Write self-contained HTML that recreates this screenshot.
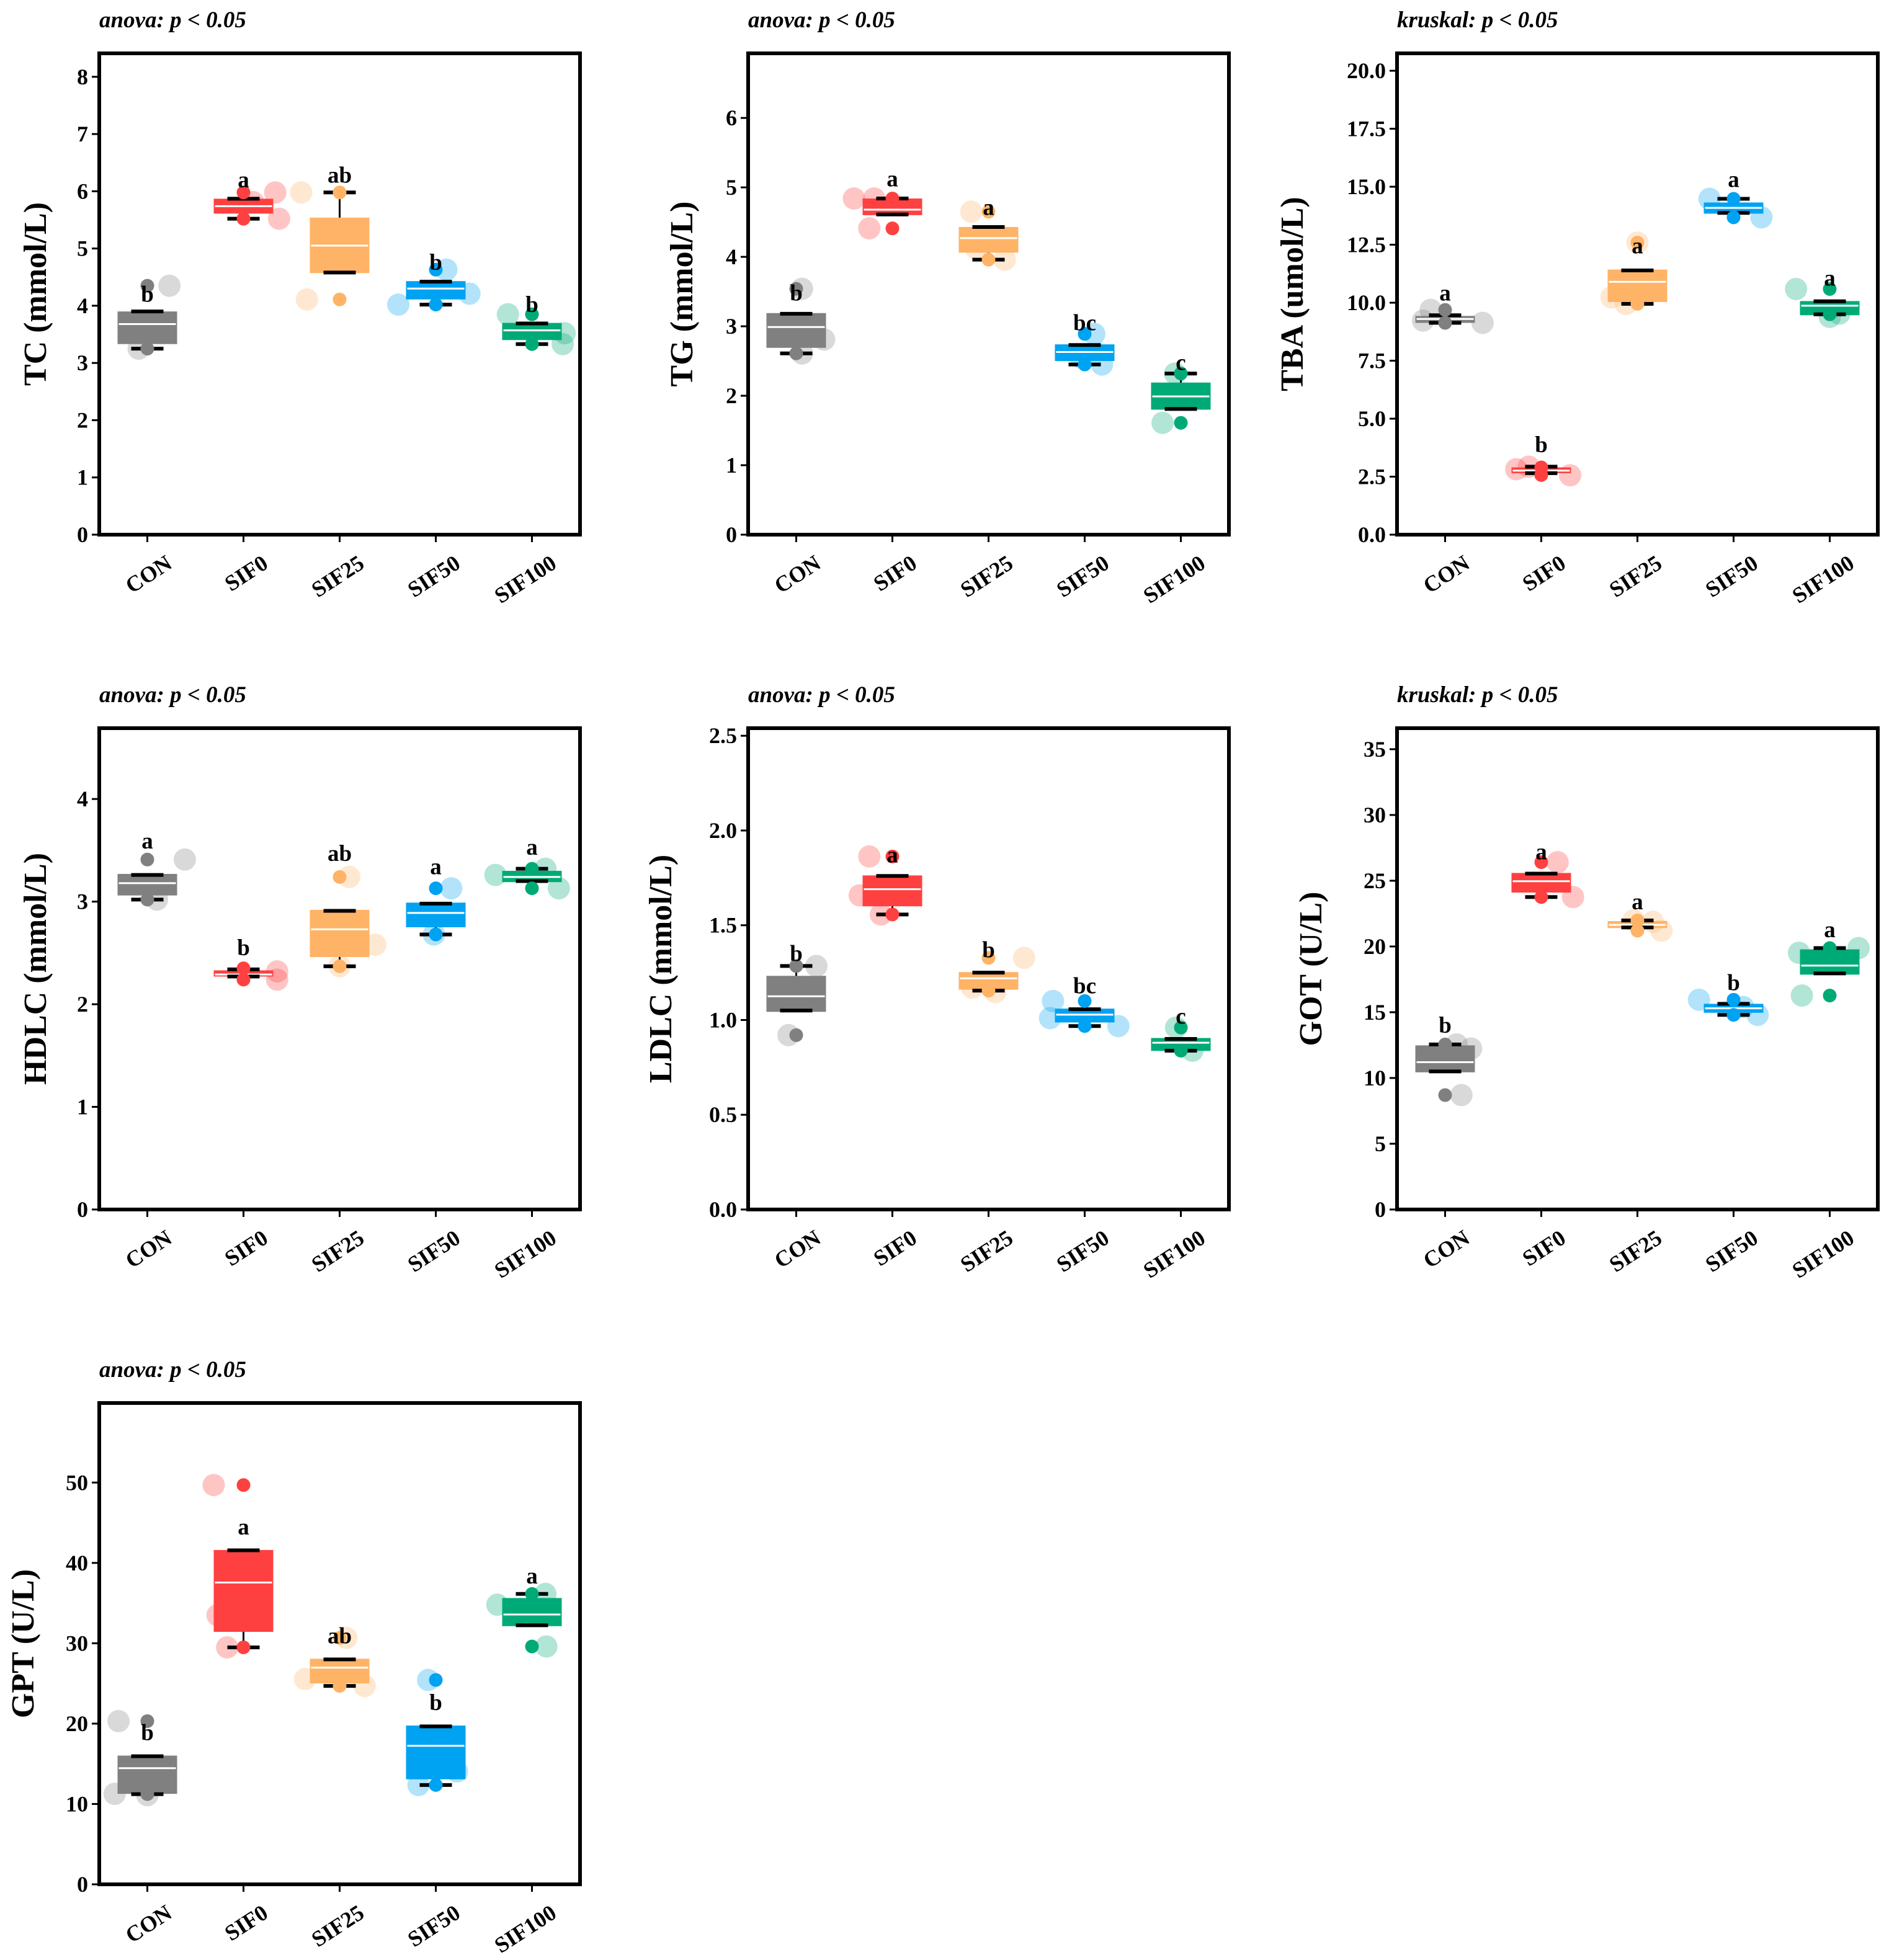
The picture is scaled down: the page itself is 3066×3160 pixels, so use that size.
<!DOCTYPE html>
<html><head><meta charset="utf-8"><style>
html,body{margin:0;padding:0;background:#fff;}
svg{display:block;}
text{font-family:"Liberation Serif",serif;font-weight:bold;}
</style></head><body>
<svg id="fig" width="3066" height="3160" viewBox="0 0 3066 3160" xmlns="http://www.w3.org/2000/svg"></svg>
<script>
const categories=["CON","SIF0","SIF25","SIF50","SIF100"];
const baseColors=["#808080","#ff4040","#ffb366","#00a2f2","#00aa77"];
// TC
const tcQ1=[3.33,5.61,4.57,4.11,3.40], tcMed=[3.68,5.74,5.05,4.30,3.57], tcQ3=[3.90,5.87,5.54,4.43,3.70];
const tcWlo=[3.25,5.52,4.58,4.02,3.33], tcWhi=[3.90,5.87,5.98,4.42,3.69];
const tcDark=[[4.35,3.25],[5.98,5.52],[5.98,4.11],[4.63,4.02],[3.85,3.33]];
const tcLight=[[4.35,3.25],[5.98,5.52,5.81],[5.98,4.11],[4.63,4.02,4.21],[3.85,3.33,3.52]];
const tcLetters=["b","a","ab","b","b"], tcLetterY=[4.2,6.2,6.28,4.76,4.02];
// TG
const tgQ1=[2.69,4.60,4.06,2.50,1.80], tgMed=[2.99,4.68,4.27,2.63,1.99], tgQ3=[3.19,4.84,4.43,2.74,2.19];
const tgWlo=[2.61,4.61,3.96,2.45,1.81], tgWhi=[3.18,4.84,4.43,2.73,2.32];
const tgDark=[[3.54,2.61],[4.84,4.41],[4.65,3.96],[2.89,2.45],[2.32,1.61]];
const tgLight=[[3.54,2.81,2.61],[4.84,4.84,4.41],[4.65,3.96,4.12],[2.89,2.45,2.55],[2.32,1.61]];
const tgLetters=["b","a","a","bc","c"], tgLetterY=[3.48,5.12,4.71,3.05,2.48];
// TBA
const tbaQ1=[9.13,2.65,10.03,13.84,9.46], tbaMed=[9.30,2.76,10.90,14.09,9.87], tbaQ3=[9.43,2.90,11.43,14.32,10.07];
const tbaWlo=[9.13,2.65,9.95,13.87,9.50], tbaWhi=[9.46,2.93,11.39,14.48,10.06];
const tbaDark=[[9.69,9.13],[2.90,2.57],[12.59,9.95],[14.48,13.68],[10.59,9.50]];
const tbaLight=[[9.69,9.23,9.13],[2.82,2.93,2.56],[12.59,10.23,9.94],[14.48,13.68],[10.59,9.39,9.53]];
const tbaLetters=["a","b","a","a","a"], tbaLetterY=[10.41,3.88,12.45,15.31,11.06];
// HDLC
const hdQ1=[3.06,2.27,2.46,2.75,3.19], hdMed=[3.18,2.29,2.73,2.89,3.24], hdQ3=[3.27,2.33,2.92,2.99,3.30];
const hdWlo=[3.02,2.27,2.37,2.68,3.20], hdWhi=[3.26,2.34,2.91,2.98,3.32];
const hdDark=[[3.41,3.02],[2.35,2.24],[3.24,2.37],[3.13,2.68],[3.32,3.13]];
const hdLight=[[3.41,3.02],[2.32,2.24],[3.24,2.58,2.37],[3.13,2.68],[3.26,3.32,3.13]];
const hdLetters=["a","b","ab","a","a"], hdLetterY=[3.59,2.55,3.47,3.34,3.53];
// LDLC
const ldQ1=[1.043,1.60,1.16,0.987,0.837], ldMed=[1.125,1.69,1.22,1.028,0.88], ldQ3=[1.233,1.763,1.253,1.06,0.905];
const ldWlo=[1.05,1.557,1.155,0.968,0.838], ldWhi=[1.285,1.76,1.25,1.057,0.90];
const ldDark=[[1.285,0.92],[1.863,1.557],[1.328,1.155],[1.10,0.968],[0.96,0.838]];
const ldLight=[[1.285,0.92],[1.863,1.658,1.557],[1.328,1.17,1.147],[1.10,1.01,0.968],[0.96,0.838]];
const ldLetters=["b","a","b","bc","c"], ldLetterY=[1.35,1.87,1.37,1.18,1.02];
// GOT
const goQ1=[10.43,24.1,21.4,14.96,17.86], goMed=[11.2,24.96,21.64,15.3,18.55], goQ3=[12.48,25.59,21.93,15.64,19.78];
const goWlo=[10.5,23.76,21.45,14.8,17.95], goWhi=[12.55,25.54,21.98,15.64,19.88];
const goDark=[[12.55,8.70],[26.41,23.76],[21.98,21.2],[15.95,14.8],[19.88,16.27]];
const goLight=[[12.55,12.24,8.70],[26.41,23.76],[21.98,21.88,21.2],[15.95,14.8,15.4],[19.52,19.88,16.27]];
const goLetters=["b","a","a","b","a"], goLetterY=[14.0,27.2,23.4,17.25,21.28];
// GPT
const gpQ1=[11.26,31.42,25.0,13.07,32.13], gpMed=[14.45,37.56,26.97,17.24,33.58], gpQ3=[16.02,41.61,28.07,19.76,35.63];
const gpWlo=[11.22,29.49,24.69,12.36,32.24], gpWhi=[15.94,41.57,27.99,19.65,36.14];
const gpDark=[[20.31,11.22],[49.69,29.49],[30.67,24.69],[25.43,12.36],[36.14,29.6]];
const gpLight=[[20.31,11.26,11.1],[49.69,29.49,33.5],[30.67,25.55,24.69],[25.43,12.36,14.06],[34.8,36.14,29.6]];
const gpLetters=["b","a","ab","b","a"], gpLetterY=[18.86,44.45,30.9,22.6,38.35];

const tcTicks=[0,1,2,3,4,5,6,7,8];
const tgTicks=[0,1,2,3,4,5,6];
const tbaTicks=["0.0","2.5","5.0","7.5","10.0","12.5","15.0","17.5","20.0"];
const hdTicks=[0,1,2,3,4];
const ldTicks=["0.0","0.5","1.0","1.5","2.0","2.5"];
const goTicks=[0,5,10,15,20,25,30,35];
const gpTicks=[0,10,20,30,40,50];

// jitter offsets (layout, category units)
const jit={
 tc:[[0.23,-0.09],[0.33,0.37,0.1],[-0.4,-0.34],[0.11,-0.39,0.35],[-0.25,0.32,0.34]],
 tg:[[0.06,0.29,0.06],[-0.4,-0.19,-0.24],[-0.18,0.17,-0.13],[0.1,0.18,-0.04],[-0.06,-0.19]],
 tba:[[-0.15,-0.23,0.39],[-0.26,-0.13,0.3],[0,-0.27,-0.12],[-0.25,0.29],[-0.35,0,0.1]],
 hd:[[0.39,0.1],[0.35,0.35],[0.1,0.37,0],[0.16,-0.02],[-0.38,0.14,0.28]],
 ld:[[0.21,-0.08],[-0.24,-0.34,-0.12],[0.37,-0.17,0.07],[-0.33,-0.36,0.35],[-0.05,0.12]],
 go:[[0.12,0.27,0.17],[0.17,0.33],[-0.04,0.16,0.25],[-0.36,0.25,0.1],[-0.32,0.3,-0.29]],
 gp:[[-0.3,-0.34,0],[-0.31,-0.17,-0.27],[0.07,-0.36,0.26],[-0.08,-0.18,0.22],[-0.36,0.14,0.15]]
};

const panels=[
 {key:"tc",label:"TC (mmol/L)",title:"anova: p < 0.05",col:0,row:0,ymax:8.41,ticks:tcTicks,q1:tcQ1,med:tcMed,q3:tcQ3,wlo:tcWlo,whi:tcWhi,dark:tcDark,light:tcLight,letters:tcLetters,letterY:tcLetterY,labX:86},
 {key:"tg",label:"TG (mmol/L)",title:"anova: p < 0.05",col:1,row:0,ymax:6.93,ticks:tgTicks,q1:tgQ1,med:tgMed,q3:tgQ3,wlo:tgWlo,whi:tgWhi,dark:tgDark,light:tgLight,letters:tgLetters,letterY:tgLetterY,labX:90},
 {key:"tba",label:"TBA (umol/L)",title:"kruskal: p < 0.05",col:2,row:0,ymax:20.75,ticks:tbaTicks,q1:tbaQ1,med:tbaMed,q3:tbaQ3,wlo:tbaWlo,whi:tbaWhi,dark:tbaDark,light:tbaLight,letters:tbaLetters,letterY:tbaLetterY,labX:152},
 {key:"hd",label:"HDLC (mmol/L)",title:"anova: p < 0.05",col:0,row:1,ymax:4.69,ticks:hdTicks,q1:hdQ1,med:hdMed,q3:hdQ3,wlo:hdWlo,whi:hdWhi,dark:hdDark,light:hdLight,letters:hdLetters,letterY:hdLetterY,labX:86},
 {key:"ld",label:"LDLC (mmol/L)",title:"anova: p < 0.05",col:1,row:1,ymax:2.54,ticks:ldTicks,q1:ldQ1,med:ldMed,q3:ldQ3,wlo:ldWlo,whi:ldWhi,dark:ldDark,light:ldLight,letters:ldLetters,letterY:ldLetterY,labX:124},
 {key:"go",label:"GOT (U/L)",title:"kruskal: p < 0.05",col:2,row:1,ymax:36.6,ticks:goTicks,q1:goQ1,med:goMed,q3:goQ3,wlo:goWlo,whi:goWhi,dark:goDark,light:goLight,letters:goLetters,letterY:goLetterY,labX:122},
 {key:"gp",label:"GPT (U/L)",title:"anova: p < 0.05",col:0,row:2,ymax:59.9,ticks:gpTicks,q1:gpQ1,med:gpMed,q3:gpQ3,wlo:gpWlo,whi:gpWhi,dark:gpDark,light:gpLight,letters:gpLetters,letterY:gpLetterY,labX:106}
];

const NS="http://www.w3.org/2000/svg";
const svg=document.getElementById("fig");
function mk(tag,attrs,parent){const e=document.createElementNS(NS,tag);for(const k in attrs)e.setAttribute(k,attrs[k]);(parent||svg).appendChild(e);return e;}
const colL=[160,1206,2252], rowT=[86,1174,2262], W=775, H=776;

panels.forEach(p=>{
  const L=colL[p.col], T=rowT[p.row], B=T+H;
  const g=mk("g",{});
  
  
  const x=i=>L+(i+0.5)*W/5;
  const y=v=>B-v/p.ymax*H;
  const ux=W/5;
  const t=mk("text",{x:L,y:T-42,"font-size":37,"font-style":"italic"},g);t.textContent=p.title;
  
  
  const yl=mk("text",{x:0,y:0,"font-size":52,"text-anchor":"middle",transform:`translate(${L-p.labX},${(T+B)/2}) rotate(-90)`},g);yl.textContent=p.label;
  
  
  p.ticks.forEach(tv=>{
    const v=parseFloat(tv), yy=y(v);
    mk("line",{x1:L-12,x2:L,y1:yy,y2:yy,stroke:"#000","stroke-width":3},g);
    const tt=mk("text",{x:L-18,y:yy+12,"font-size":36,"text-anchor":"end"},g);tt.textContent=tv;
    
    
  });
  categories.forEach((c,i)=>{
    mk("line",{x1:x(i),x2:x(i),y1:B,y2:B+12,stroke:"#000","stroke-width":3},g);
    const xt=mk("text",{x:0,y:0,"font-size":36,"text-anchor":"end",transform:`translate(${x(i)+42},${B+52}) rotate(-33)`},g);xt.textContent=c;
    
    
  });
  categories.forEach((c,i)=>{
    p.light[i].forEach((v,j)=>{
      const cc=mk("circle",{cx:x(i)+jit[p.key][i][j]*ux,cy:y(v),r:18,fill:baseColors[i],"fill-opacity":0.3},g);
      
      
    });
  });
  categories.forEach((c,i)=>{
    const bw=96, cx=x(i);
    const bx=mk("rect",{x:cx-bw/2,y:y(p.q3[i]),width:bw,height:Math.max(2,y(p.q1[i])-y(p.q3[i])),fill:baseColors[i]},g);
    
    
    mk("line",{x1:cx-bw/2+2,x2:cx+bw/2-2,y1:y(p.med[i]),y2:y(p.med[i]),stroke:"#fff","stroke-width":3},g);
    if(p.whi[i]>p.q3[i]+1e-9) mk("line",{x1:cx,x2:cx,y1:y(p.q3[i]),y2:y(p.whi[i]),stroke:"#000","stroke-width":3},g);
    if(p.wlo[i]<p.q1[i]-1e-9) mk("line",{x1:cx,x2:cx,y1:y(p.q1[i]),y2:y(p.wlo[i]),stroke:"#000","stroke-width":3},g);
    [p.whi[i],p.wlo[i]].forEach(v=>{
      const cap=mk("line",{x1:cx-26,x2:cx+26,y1:y(v),y2:y(v),stroke:"#000","stroke-width":6},g);
      
      
    });
  });
  categories.forEach((c,i)=>{
    p.dark[i].forEach(v=>{
      const d=mk("circle",{cx:x(i),cy:y(v),r:11,fill:baseColors[i]},g);
      
      
    });
    const lt=mk("text",{x:x(i),y:y(p.letterY[i])+12,"font-size":37,"text-anchor":"middle"},g);lt.textContent=p.letters[i];
    
    
  });
  const fr=mk("rect",{x:L,y:T,width:W,height:H,fill:"none",stroke:"#000","stroke-width":6},g);
  
  
});
</script>
</body></html>
